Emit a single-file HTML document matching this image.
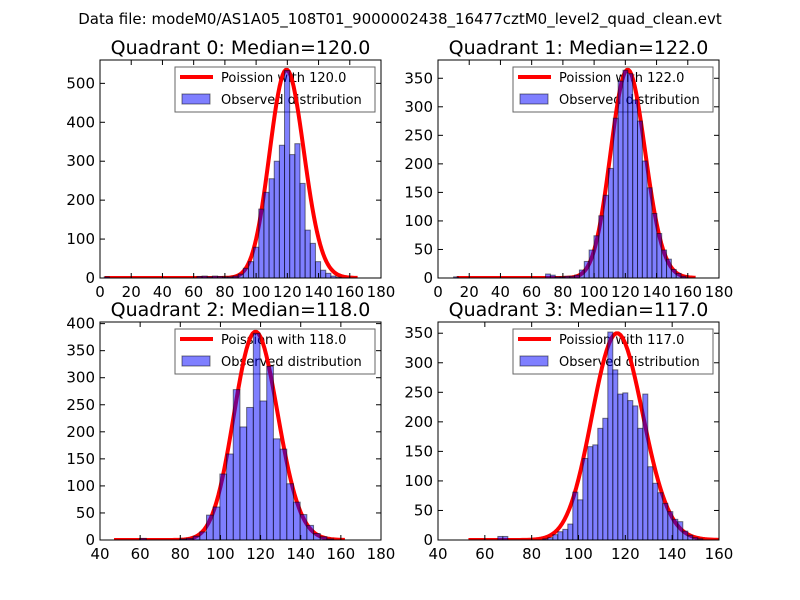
<!DOCTYPE html>
<html><head><meta charset="utf-8"><style>
body{margin:0;background:#fff;}
svg{display:block;font-family:"DejaVu Sans","Liberation Sans",sans-serif;}
</style></head><body>
<svg id="fig" width="800" height="600" viewBox="0 0 800 600">
<text x="400" y="24" font-size="15" text-anchor="middle">Data file: modeM0/AS1A05_108T01_9000002438_16477cztM0_level2_quad_clean.evt</text>
</svg>
<script>
const quadNames = ["Quadrant 0: Median=120.0","Quadrant 1: Median=122.0","Quadrant 2: Median=118.0","Quadrant 3: Median=117.0"];
const legendLabels = ["Poission with 120.0","Poission with 122.0","Poission with 118.0","Poission with 117.0"];
const medians = [120, 122, 118, 117];
const poissonScale = [14690, 10106, 10483, 9490];
const curveRange = [[3,165],[12,165],[47,162],[53,160]];
const binStart = [2.7, 10, 46.4, 50.6];
const binWidth = [3.3, 3.1, 3.333, 2.135];
const q0Values = [3,0,0,0,0,0,0,0,0,0,0,0,0,0,0,0,0,0,4,5,3,5,4,3,3,5,10,25,42,79,177,220,255,300,341,533,317,345,243,123,89,42,20,12,5,2,0,0,0,0];
const q1Values = [2,0,0,0,0,0,0,0,0,0,0,0,0,0,0,0,0,0,0,7,5,2,2,3,3,5,14,29,49,74,109,145,192,280,345,364,358,312,275,205,158,113,78,49,33,15,8,3,0,0];
const q2Values = [0,0,0,0,3,0,0,0,0,0,2,3,7,15,46,61,122,159,278,209,245,382,257,321,187,168,104,70,47,27,12,6,2,0,0,0];
const q3Values = [0,0,0,0,0,0,0,6,6,0,0,0,0,0,0,0,2,4,9,14,18,27,81,68,138,158,161,189,206,352,288,247,249,236,227,189,247,124,96,80,62,48,35,31,15,8,4,2];
const allValues = [q0Values, q1Values, q2Values, q3Values];
const xDomains = [[0,180],[0,180],[40,180],[40,160]];
const yDomains = [[0,560],[0,382],[0,403],[0,369]];
const xTicks = [[0,20,40,60,80,100,120,140,160,180],[0,20,40,60,80,100,120,140,160,180],[40,60,80,100,120,140,160,180],[40,60,80,100,120,140,160]];
const yTicks = [[0,100,200,300,400,500],[0,50,100,150,200,250,300,350],[0,50,100,150,200,250,300,350,400],[0,50,100,150,200,250,300,350]];
const boxes = [[100,60,281,218],[438,60,281,218],[100,322,281,218],[438,322,281,218]];

const NS="http://www.w3.org/2000/svg";
const svg=document.getElementById('fig');
function mk(tag,attrs,parent){const e=document.createElementNS(NS,tag);for(const k in attrs)e.setAttribute(k,attrs[k]);(parent||svg).appendChild(e);return e;}
function logFact(k){let s=0;for(let i=2;i<=k;i++)s+=Math.log(i);return s;}

for(let q=0;q<4;q++){
  const [bx,by,bw,bh]=boxes[q];
  const xs=v=>bx+(v-xDomains[q][0])/(xDomains[q][1]-xDomains[q][0])*bw;
  const ys=v=>by+bh-(v-yDomains[q][0])/(yDomains[q][1]-yDomains[q][0])*bh;
  const g=mk('g',{});
  
  
  // legend (drawn beneath data, as in reference)
  const lx=bx+75, ly=by+7;
  const lg=mk('g',{},g);
  
  
  mk('rect',{x:lx,y:ly,width:200,height:45,fill:'#fff',stroke:'#000','stroke-opacity':0.6,'stroke-width':1},lg);
  mk('line',{x1:lx+5,y1:ly+10,x2:lx+38,y2:ly+10,stroke:'#ff0000','stroke-width':4},lg);
  mk('rect',{x:lx+7,y:ly+27,width:28,height:10,fill:'rgba(0,0,255,0.5)',stroke:'rgba(0,0,0,0.5)'},lg);
  const t1=mk('text',{x:lx+46,y:ly+15,'font-size':13},lg);
  t1.textContent=legendLabels[q];
  
  
  const t2=mk('text',{x:lx+46,y:ly+37,'font-size':13},lg);
  t2.textContent='Observed distribution';
  
  

  const clipId='clip'+q;
  const cp=mk('clipPath',{id:clipId},g);
  mk('rect',{x:bx,y:by,width:bw,height:bh},cp);
  const plot=mk('g',{'clip-path':'url(#'+clipId+')'},g);
  let d='';
  const lam=medians[q];
  for(let k=curveRange[q][0];k<=curveRange[q][1];k++){
    const p=Math.exp(k*Math.log(lam)-lam-logFact(k))*poissonScale[q];
    d+=(d?'L':'M')+xs(k).toFixed(2)+','+ys(p).toFixed(2);
  }
  const curve=mk('path',{d:d,fill:'none',stroke:'#ff0000','stroke-width':4,'stroke-linejoin':'round'},plot);
  
  
  const vals=allValues[q];
  for(let i=0;i<vals.length;i++){
    if(vals[i]<=0)continue;
    const x0=xs(binStart[q]+i*binWidth[q]), x1=xs(binStart[q]+(i+1)*binWidth[q]);
    const r=mk('rect',{x:x0,y:ys(vals[i]),width:x1-x0,height:ys(0)-ys(vals[i]),fill:'rgba(0,0,255,0.5)',stroke:'rgba(0,0,0,0.5)','stroke-width':1},plot);
    
    
  }
  mk('rect',{x:bx,y:by,width:bw,height:bh,fill:'none',stroke:'#000','stroke-width':1},g);
  xTicks[q].forEach(t=>{
    const x=xs(t);
    mk('line',{x1:x,y1:by+bh,x2:x,y2:by+bh-5,stroke:'#000'},g);
    mk('line',{x1:x,y1:by,x2:x,y2:by+5,stroke:'#000'},g);
    const tl=mk('text',{x:x,y:by+bh+19,'font-size':15,'text-anchor':'middle'},g);
    tl.textContent=t;
    
    
  });
  yTicks[q].forEach(t=>{
    const y=ys(t);
    mk('line',{x1:bx,y1:y,x2:bx+5,y2:y,stroke:'#000'},g);
    mk('line',{x1:bx+bw,y1:y,x2:bx+bw-5,y2:y,stroke:'#000'},g);
    const tl=mk('text',{x:bx-5,y:y+5,'font-size':15,'text-anchor':'end'},g);
    tl.textContent=t;
    
    
  });
  const ti=mk('text',{x:bx+bw/2,y:by-6,'font-size':19,'text-anchor':'middle'},g);
  ti.textContent=quadNames[q];
  
  
}
</script>
</body></html>
